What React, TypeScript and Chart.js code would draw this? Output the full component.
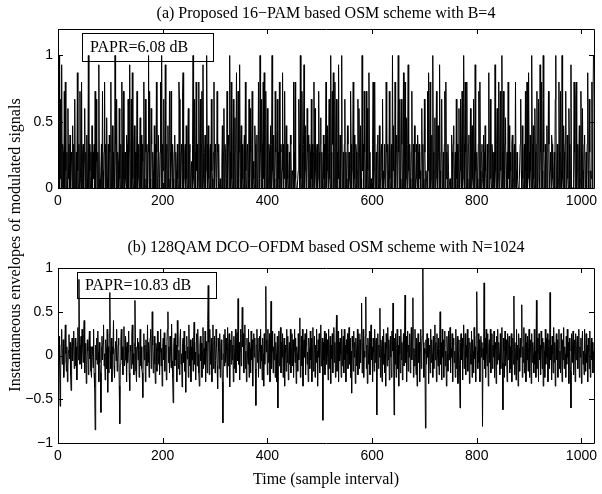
import React, { useEffect, useRef } from "react";
import { Chart, registerables } from "chart.js";

Chart.register(...registerables);

// ---------------- data ----------------
const pamStep = 1; // one value per sample interval
const ofdmStep = 1;
const xTicks = [0, 200, 400, 600, 800, 1000];
const topYTicks = [0, 0.5, 1];
const bottomYTicks = [-1, -0.5, 0, 0.5, 1];

const topTitle = "(a) Proposed 16\u2212PAM based OSM scheme with B=4";
const bottomTitle = "(b) 128QAM DCO\u2212OFDM based OSM scheme with N=1024";
const topPapr = "PAPR=6.08 dB";
const bottomPapr = "PAPR=10.83 dB";
const xLabel = "Time (sample interval)";
const yLabel = "Instantaneous envelopes of modulated signals";

const pamEnvelope = [
  0,.8,0,1,.07,.67,0,.93,0,.33,.27,0,.73,0,.8,.13,0,.27,0,.6,.07,.33,0,.4,0,.27,.2,0,.47,0,.33,0,
  .67,0,.07,.27,0,.87,.13,0,.33,0,.73,.07,0,.8,0,.27,.33,0,.2,.6,0,.27,0,.4,.07,0,1,0,.33,.13,0,.27,
  0,.47,0,.27,.07,.33,0,.73,0,.67,.2,0,.27,0,.93,.07,0,0,0,.33,0,.73,.13,0,.27,.8,0,.33,0,.53,.07,0,
  .33,0,.4,.27,0,.8,0,.13,.47,0,.27,.07,0,1,.33,0,.67,0,.27,.2,0,.6,.07,0,.33,0,.8,.27,0,.73,.07,0,
  .27,.07,0,.4,.33,0,.67,0,.27,.93,0,.13,.67,0,.87,.07,0,.33,.47,0,.27,0,.2,.73,0,.07,.33,0,.27,.53,0,.4,
  0,.33,.2,0,.8,.07,0,.67,.27,0,.33,0,.27,1,0,.73,.07,0,.6,.33,0,.27,.13,0,.47,0,.33,0,.8,.27,0,.07,
  .4,0,.07,.27,.8,0,1,0,.33,.13,.67,0,.07,.93,0,.27,.33,0,.47,.07,0,.73,.27,0,.73,.2,0,.33,.07,0,.27,.4,
  0,.27,.13,0,.33,.07,0,.8,.67,0,0,.27,.33,0,.73,.87,0,.07,.27,.33,0,.47,.07,0,.4,.6,0,.27,.33,0,.07,.2,
  0,.33,1,.07,0,.67,.27,0,.8,.13,.33,0,.07,.8,0,.27,.67,0,.33,.73,0,.93,.07,0,.27,.4,0,.13,1,.33,0,.47,
  .07,0,.27,.33,0,.67,.13,.07,0,.27,.8,0,.33,.27,0,.07,.73,.27,0,.33,0,0,.07,0,0,.2,.47,0,.27,.6,0,.33,
  .27,0,.07,.73,0,.4,.33,0,1,.27,0,.8,.07,0,.33,.67,0,.27,.53,0,.33,.87,0,.07,.73,0,.27,.93,0,.33,.47,0,
  .33,.07,0,.27,.4,0,.8,.13,0,.27,.33,0,.07,.67,0,.6,.27,0,.33,.73,0,.2,.07,0,.47,.33,0,.27,.4,0,.07,.8,
  0,.07,1,.27,0,.67,.33,0,.8,.07,.87,0,.27,.73,0,.13,.6,0,.07,.33,.27,0,.47,0,.33,1,.13,0,.4,.07,0,.73,
  .27,0,.33,.67,0,.27,.07,.8,0,.33,.27,0,.13,.87,0,.33,.07,.73,0,.27,.47,0,.33,.07,0,.07,.27,0,.4,.33,0,.13,
  .13,0,.8,.27,0,.8,.07,0,0,0,0,.13,.67,.33,0,1,.07,0,.73,.27,0,.33,.93,0,.13,.47,0,.07,.6,.27,0,.4,
  0,.33,.27,0,.67,.07,.33,0,.27,.8,0,.6,.13,0,.27,.33,0,.07,.73,.27,0,.33,.53,0,.27,.07,0,.4,.07,.33,0,.27,
  .8,0,.13,.47,0,.27,.67,.07,0,1,.27,0,.73,.33,.87,0,.07,.8,0,.33,.67,0,.27,.07,.93,0,.13,.4,0,.27,1,0,
  .07,.27,0,.33,.67,0,.27,.07,0,.47,.33,0,.27,.07,0,.73,.33,0,.13,.27,.8,0,.4,.07,0,.33,.27,0,.13,.67,0,.6,
  .27,0,.47,.07,0,1,.13,.33,0,.73,.27,0,.07,.73,0,.6,.13,0,.87,.27,0,0,.07,0,0,.33,.8,0,.13,.8,0,.07,
  .27,0,.33,.4,0,.13,.47,0,.07,.27,.33,0,.67,.13,0,.07,.33,0,.07,.8,.27,0,.33,.13,0,.73,.07,0,.27,.33,0,1,
  .13,.47,0,.07,.8,0,.27,.4,0,.33,1,.27,0,.67,.07,0,.67,.33,0,.13,.87,0,.27,.8,0,.07,.53,0,.33,.93,.13,0,
  .33,.07,0,.27,.73,0,.13,.33,0,.47,.27,0,.07,.33,0,.4,.27,0,.33,.07,.13,0,.27,.6,0,.33,.07,0,.67,.27,0,.13,
  .07,0,.73,.13,.87,0,.27,.8,0,.07,.4,0,1,.27,0,.13,.53,0,.33,.73,.07,0,.47,.27,0,.93,.13,0,.27,.67,0,.07,
  .27,0,.33,.73,0,.8,.07,.27,0,.33,.13,0,0,.07,0,0,.4,.27,0,.33,.47,0,.13,.27,0,.67,.07,.33,0,.27,.6,0,
  .13,.67,0,.27,.73,0,.07,1,.33,0,.8,.27,0,.8,.07,0,.33,.4,0,.13,.6,0,.27,.47,.07,0,.67,.27,0,.93,.13,0,
  .27,.07,0,.33,.73,0,.8,.13,0,.27,.33,.07,0,.4,.27,0,.47,.13,0,.07,.33,0,.27,.87,0,.13,.67,.07,0,.33,.27,0,
  .07,.27,0,.93,.13,0,.33,.6,0,.07,.8,0,.27,.73,.13,0,1,.27,0,.73,.07,0,.33,.53,0,.13,.27,0,.8,.07,.47,0,
  .27,.13,0,.33,.4,0,.07,.27,.33,0,.8,.13,0,.27,.07,0,0,0,0,.33,.67,.13,0,.47,.07,0,.27,.33,0,.73,.13,0,
  .8,0,.07,.87,.27,0,.4,.13,0,1,.33,0,.47,.07,0,.6,.27,0,.33,.73,0,.13,.67,.07,0,.93,.27,0,.8,.13,0,1,
  .27,0,.13,.33,0,.27,.47,0,.07,.73,.33,0,.13,.27,0,.4,.33,.07,0,.13,.27,0,.67,1,0,.13,.33,0,.07,.8,.27,0,
  .73,.13,0,1,.07,0,.47,.27,0,.33,.73,0,.13,.4,.07,0,.6,.33,0,.13,.93,0,0,0,0,.07,.8,.27,0,.67,.8,0,
  .13,.33,0,.27,.47,0,.07,.73,.27,0,.6,.13,0,.33,.4,0,.07,.27,0,.33,.87,.13,0,.67,.27,0,.13,.07,.8,0,.6,1,
];

const ofdmEnvelope = [
  .08,-.15,.22,-.05,-.58,-.2,.12,.3,-.1,.04,.18,-.25,-.08,.14,.35,.02,-.18,.1,-.3,-.12,.06,.24,-.04,.15,-.22,-.4,.1,.2,-.06,.12,.28,-.15,
  .05,.2,-.12,.1,-.28,.15,.32,-.05,.87,.12,-.1,.06,.22,-.15,.3,.1,-.08,.25,.4,-.2,.02,.14,-.32,-.1,.18,.05,-.22,.12,.28,-.04,.1,-.18,
  -.25,.1,.05,-.14,.3,-.2,-.36,-.85,.12,-.05,.2,-.1,.28,.04,-.3,.15,-.08,-.2,-.65,.1,.22,-.05,.14,.35,-.12,.02,-.28,.18,.08,-.15,.3,-.42,
  .1,-.2,.25,.72,.05,-.15,.2,-.3,.1,.02,.4,-.12,-.25,.08,.16,-.06,.3,-.18,-.04,.12,.2,-.35,-.78,-.1,.18,.3,-.05,.1,-.22,.06,.33,-.12,
  -.05,.22,.1,-.3,.15,-.08,.04,.28,-.2,-.4,.12,.05,-.15,.25,.35,-.1,.02,-.22,.14,.63,.1,-.18,-.3,.08,.2,-.05,.15,-.25,.06,.3,-.12,.1,
  -.15,-.2,-.48,.1,.25,-.05,.12,-.3,.18,.04,-.12,.35,-.08,.15,-.25,.02,.2,.3,-.15,.06,.5,.12,-.2,-.05,.22,-.1,-.32,.14,.08,-.18,.28,.05,
  -.1,.15,-.22,.04,.3,-.12,.08,-.35,.1,.2,-.05,.26,-.18,.02,.12,-.28,.16,.3,.5,-.08,.1,-.2,.22,.05,-.14,.36,-.06,-.25,-.54,.1,.2,-.12,
  .25,-.05,.12,-.3,.4,.1,-.15,.06,-.22,.18,.3,-.1,.02,-.36,.14,.2,-.08,.28,-.18,.05,-.42,.12,.22,-.04,.1,-.25,.35,.06,-.12,.18,-.3,.1,
  -.05,.2,-.18,.1,.38,-.1,.04,-.28,.15,.25,-.12,.3,.02,-.2,-.35,.12,.22,-.06,.14,-.25,.05,.32,-.15,.08,-.1,.28,-.3,.16,.05,-.2,.4,.8,
  .15,-.22,.3,.05,-.1,.2,-.3,.12,.35,-.15,.04,.22,-.2,-.06,.3,.1,-.12,-.38,.2,.05,-.15,.25,-.25,.08,.18,-.05,-.3,-.77,.02,.24,-.12,.3,
  -.08,.2,.05,-.25,.32,-.12,.1,.25,-.36,.04,.18,-.1,.28,-.05,.12,-.3,.22,.02,-.15,.3,-.2,.08,.26,-.06,.65,-.1,.15,-.28,.05,.3,-.12,.18,
  .55,.1,.25,-.2,.12,.35,-.15,.05,-.3,.2,.02,-.1,.3,-.25,.15,.08,-.2,.28,-.05,.18,-.35,.1,.25,-.02,.2,-.15,-.57,.12,.3,-.08,.2,-.25,
  .05,.22,-.15,.3,-.06,.12,-.28,.2,.02,-.35,.25,-.1,.15,.79,.04,.18,-.22,.3,-.08,.06,.25,-.3,.12,.62,-.15,.05,.28,-.2,.1,-.05,.25,-.25,
  .15,.02,-.3,.22,-.6,.1,.28,-.12,.05,.32,-.2,.15,-.02,.25,-.25,.08,.2,-.35,.12,.04,-.18,.3,-.08,.22,-.28,.06,.15,-.1,.3,-.2,.08,.25,
  -.12,.18,-.25,.05,.3,-.08,.2,-.32,.1,.02,-.18,.25,-.05,.15,.43,-.25,.08,.22,-.12,.3,-.35,.06,.18,-.02,.25,-.22,.12,.3,-.1,.04,-.3,.2,
  .08,-.15,.28,-.05,.2,-.3,.1,.32,-.18,.02,.22,-.25,.12,-.08,.3,.05,-.35,.18,-.02,.25,-.2,.1,.35,-.12,.04,.2,-.74,.15,-.05,.28,-.22,.1,
  .25,-.1,.18,.02,-.28,.3,-.15,.08,.22,-.32,.12,-.04,.25,-.2,.05,.32,-.08,.15,-.25,.1,.46,-.18,.05,.28,-.3,.15,-.06,.2,.02,-.25,.3,-.12,
  .05,.22,-.2,.3,-.05,.12,-.3,.18,.02,.25,-.15,.08,.32,-.1,.2,-.25,.05,-.43,.22,.1,-.18,.28,-.02,.15,-.32,.2,.05,-.12,.3,-.22,.1,.25,
  -.15,.18,-.08,.25,.6,-.2,.1,.3,-.25,.05,-.02,.22,.67,-.15,.12,-.32,.2,.02,-.1,.28,-.22,.15,.35,-.05,.1,-.3,.2,.04,-.18,.3,-.08,.15,
  .2,-.68,.08,.25,-.15,.12,-.02,.54,-.25,.18,.05,-.3,.22,-.1,.3,.02,-.2,.15,-.35,.25,.08,-.12,.32,-.05,.18,-.28,.1,.22,-.02,-.25,.28,.05,
  .6,.05,-.68,.2,-.1,.25,-.25,.08,.3,-.15,.12,-.35,.22,.02,-.2,.3,-.05,.15,-.28,.1,.25,-.12,.18,.69,-.08,.22,-.3,.05,.28,-.18,.12,-.02,
  .25,-.2,.1,.32,-.05,.18,.66,-.25,.08,-.12,.3,.02,-.22,.2,-.35,.12,.25,-.08,.15,-.3,.05,.3,-.15,.1,.22,1,.15,-.25,.08,.02,-.83,.18,
  -.1,.25,-.02,.2,-.32,.12,.05,-.2,.3,-.08,.18,.02,-.25,.22,-.15,.1,.35,-.05,.15,-.3,.25,.04,-.12,.2,-.22,.08,.5,-.1,.15,-.28,.3,-.02,
  .18,-.25,.1,.28,-.12,.05,-.35,.22,.02,-.18,.28,-.05,.15,.32,-.2,.08,-.02,.25,-.3,.12,.2,-.08,.05,-.25,.3,-.15,.1,.22,-.32,.04,.18,-.1,
  -.6,.15,.25,-.05,.2,-.28,.1,.35,-.15,.04,.25,-.22,.12,-.02,.3,-.18,.08,.2,-.32,.15,.02,-.1,.28,-.25,.18,.05,-.2,.32,-.04,.1,-.3,.22,
  .73,.05,-.15,.25,-.08,.18,-.3,.1,.22,-.02,.15,-.81,.08,-.05,.83,-.15,.2,-.25,.3,.02,-.12,.25,-.35,.1,.18,-.08,.3,-.2,.05,.25,-.15,.12,
  -.02,.28,-.25,.15,.08,-.32,.22,-.1,.3,-.05,.15,.02,-.22,.25,-.15,.1,.32,-.08,-.62,.2,.05,-.25,.28,-.12,.18,.02,-.3,.25,-.05,.12,.22,-.2,
  .1,-.15,.25,-.3,.05,.2,-.1,.68,-.22,.15,.02,-.28,.3,-.05,.12,-.35,.25,.08,-.18,.2,-.02,.15,.58,-.25,.1,-.08,.32,-.2,.05,.25,-.3,.15,
  -.05,.22,-.18,.1,.3,-.25,.05,.18,-.32,.25,-.08,.15,.02,-.2,.3,-.1,.05,-.25,.63,-.15,.2,.02,-.3,.25,-.05,.12,-.22,.28,.08,-.15,.2,-.35,
  .15,.05,-.25,.3,-.1,.2,-.02,.25,-.3,.1,.18,-.15,.72,-.05,.12,-.28,.22,.02,-.2,.32,-.08,.15,-.35,.1,.25,-.05,.18,-.25,.08,.3,-.15,.05,
  -.2,.25,.08,-.3,.18,-.05,.32,-.15,.1,.02,-.25,.22,-.1,.3,-.02,.15,-.32,.2,.05,-.18,-.6,.25,-.08,.12,.28,-.22,.02,.18,-.3,.25,-.05,.1,
  .22,-.15,.05,.3,-.25,.1,-.02,.2,-.32,.15,.28,-.1,.05,-.22,.3,.02,-.18,.25,-.08,.12,-.3,.2,.05,-.15,.28,-.25,.08,.2,-.05,.15,-.2,.05,
];

// ---------------- layout ----------------
const W = 602;
const AXIS_LEFT = 58;
const AXIS_RIGHT = 594;
const SANS = "'Liberation Sans', Arial, Helvetica, sans-serif";
const SERIF = "'Liberation Serif', 'Times New Roman', Times, serif";

function fmtTick(v: number): string {
  return v < 0 ? "\u2212" + String(-v) : String(v);
}

const boxPlugin = {
  id: "matlabBox",
  afterDraw(chart: any) {
    const { ctx, chartArea } = chart;
    const { left, top, right, bottom } = chartArea;
    const xs = chart.scales.x;
    const ys = chart.scales.y;
    const tl = 5;
    ctx.save();
    ctx.strokeStyle = "#000";
    ctx.lineWidth = 1;
    ctx.beginPath();
    ctx.rect(Math.round(left) + 0.5, Math.round(top) + 0.5, Math.round(right - left), Math.round(bottom - top));
    ctx.stroke();
    ctx.beginPath();
    for (const v of xTicks) {
      const px = Math.round(xs.getPixelForValue(v)) + 0.5;
      ctx.moveTo(px, bottom);
      ctx.lineTo(px, bottom - tl);
      ctx.moveTo(px, top);
      ctx.lineTo(px, top + tl);
    }
    const yt: number[] = chart.options.plugins.matlabBox.yTicks;
    for (const v of yt) {
      const py = Math.round(ys.getPixelForValue(v)) + 0.5;
      ctx.moveTo(left, py);
      ctx.lineTo(left + tl, py);
      ctx.moveTo(right, py);
      ctx.lineTo(right - tl, py);
    }
    ctx.stroke();
    ctx.restore();
  },
};

function makeConfig(
  values: number[],
  step: number,
  lineW: number,
  yMin: number,
  yMax: number,
  yTicks: number[],
  canvasH: number,
  areaTop: number,
  areaBottom: number
): any {
  return {
    type: "line",
    data: {
      datasets: [
        {
          data: values.map((v, i) => ({ x: i * step, y: v })),
          borderColor: "#000",
          borderWidth: lineW,
          pointRadius: 0,
          tension: 0,
          fill: false,
        },
      ],
    },
    options: {
      responsive: false,
      animation: false,
      events: [],
      layout: { padding: { left: 0, right: W - AXIS_RIGHT, top: areaTop, bottom: 0 } },
      plugins: {
        legend: { display: false },
        tooltip: { enabled: false },
        matlabBox: { yTicks },
      },
      scales: {
        x: {
          type: "linear",
          min: 0,
          max: 1024,
          grid: { display: false, drawTicks: false },
          border: { display: false },
          ticks: {
            padding: 5,
            color: "#000",
            maxRotation: 0,
            autoSkip: false,
            font: { family: SANS, size: 14 },
            callback: (v: number) => fmtTick(v),
          },
          afterBuildTicks: (s: any) => {
            s.ticks = xTicks.map((v) => ({ value: v }));
          },
          afterFit: (s: any) => {
            s.height = canvasH - areaBottom;
            s.paddingLeft = 0;
            s.paddingRight = 0;
          },
        },
        y: {
          type: "linear",
          min: yMin,
          max: yMax,
          grid: { display: false, drawTicks: false },
          border: { display: false },
          ticks: {
            padding: 5,
            color: "#000",
            autoSkip: false,
            font: { family: SANS, size: 14 },
            callback: (v: number) => fmtTick(v),
          },
          afterBuildTicks: (s: any) => {
            s.ticks = yTicks.map((v) => ({ value: v }));
          },
          afterFit: (s: any) => {
            s.width = AXIS_LEFT;
            s.paddingTop = 0;
            s.paddingBottom = 0;
          },
        },
      },
    },
    plugins: [boxPlugin],
  };
}

function Plot(props: {
  values: number[];
  step: number;
  lineW: number;
  yMin: number;
  yMax: number;
  yTicks: number[];
  top: number;
  height: number;
  areaTop: number;
  areaBottom: number;
}) {
  const ref = useRef<HTMLCanvasElement | null>(null);
  useEffect(() => {
    if (!ref.current) return;
    const chart = new Chart(
      ref.current,
      makeConfig(
        props.values,
        props.step,
        props.lineW,
        props.yMin,
        props.yMax,
        props.yTicks,
        props.height,
        props.areaTop,
        props.areaBottom
      )
    );
    return () => chart.destroy();
  }, []);
  return (
    <canvas
      ref={ref}
      width={W}
      height={props.height}
      style={{ position: "absolute", left: 0, top: props.top, width: W, height: props.height }}
    />
  );
}

const textBase: React.CSSProperties = {
  position: "absolute",
  fontFamily: SERIF,
  fontSize: 16,
  lineHeight: "18px",
  color: "#000",
  whiteSpace: "nowrap",
};

export default function App() {
  const axisW = AXIS_RIGHT - AXIS_LEFT;
  return (
    <div
      style={{
        position: "absolute",
        left: 0,
        top: 0,
        width: W,
        height: 494,
        background: "#fff",
        overflow: "hidden",
      }}
    >
      <Plot values={pamEnvelope} step={pamStep} lineW={1} yMin={0} yMax={1.2} yTicks={topYTicks} top={0} height={222} areaTop={29} areaBottom={188} />
      <Plot values={ofdmEnvelope} step={ofdmStep} lineW={1} yMin={-1} yMax={1} yTicks={bottomYTicks} top={230} height={264} areaTop={38} areaBottom={213} />

      <div style={{ ...textBase, left: AXIS_LEFT, width: axisW, top: 4, textAlign: "center" }}>{topTitle}</div>
      <div style={{ ...textBase, left: AXIS_LEFT, width: axisW, top: 238, textAlign: "center" }}>{bottomTitle}</div>
      <div style={{ ...textBase, left: AXIS_LEFT, width: axisW, top: 470, textAlign: "center" }}>{xLabel}</div>
      <div
        style={{
          ...textBase,
          left: 15 - 200,
          top: 245 - 9,
          width: 400,
          height: 18,
          textAlign: "center",
          transform: "rotate(-90deg)",
          transformOrigin: "50% 50%",
        }}
      >
        {yLabel}
      </div>

      <div
        style={{
          ...textBase,
          left: 82,
          top: 33,
          width: 132,
          height: 29,
          boxSizing: "border-box",
          border: "1px solid #000",
          paddingTop: 4,
          paddingLeft: 7,
        }}
      >
        {topPapr}
      </div>
      <div
        style={{
          ...textBase,
          left: 77,
          top: 272,
          width: 140,
          height: 27,
          boxSizing: "border-box",
          border: "1px solid #000",
          paddingTop: 3,
          paddingLeft: 7,
        }}
      >
        {bottomPapr}
      </div>
    </div>
  );
}
